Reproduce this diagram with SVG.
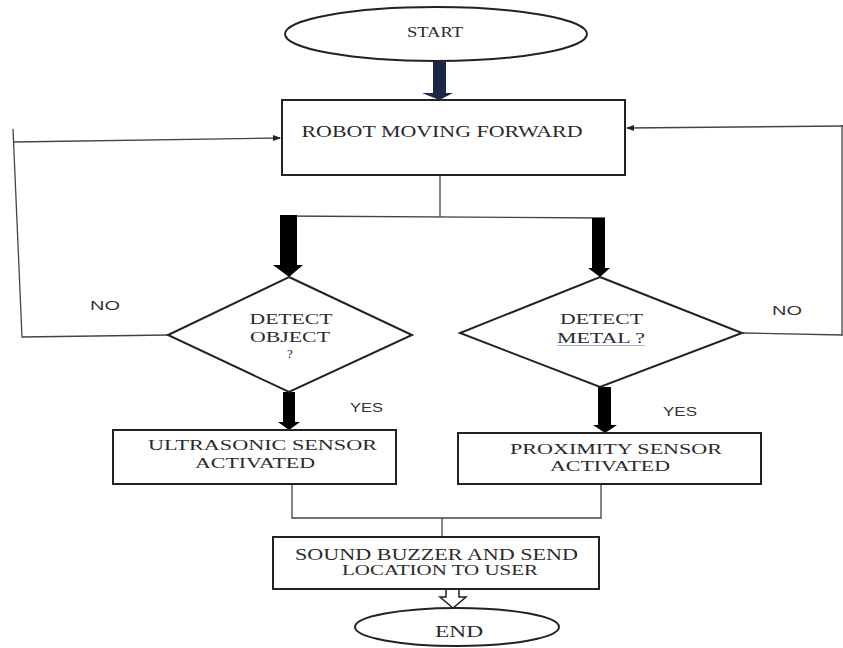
<svg xmlns="http://www.w3.org/2000/svg" width="843" height="648" viewBox="0 0 843 648">
<defs>
<style>
.shape{fill:#fff;stroke:#222;stroke-width:2}
.line{fill:none;stroke:#444;stroke-width:1.3}
.t{font-family:"Liberation Serif","Times New Roman",serif;fill:#2a2a2a;text-anchor:middle}
.s{font-family:"Liberation Sans",Arial,sans-serif;fill:#333;text-anchor:middle;font-size:13px}
.blk{fill:#000}
</style>
<marker id="ah" markerWidth="8" markerHeight="8" refX="7" refY="4" orient="auto" markerUnits="userSpaceOnUse">
<path d="M0,1 L8,4 L0,7 Z" fill="#222"/>
</marker>
</defs>
<rect width="843" height="648" fill="#fff"/>

<g id="connectors">
<polygon points="433,62 446,62 446,93 453,93 439.5,100 422,93 433,93" fill="#1c2747"/>
<path class="line" d="M440,175 L440,217"/>
<path class="line" d="M280,216 L605,218"/>
<polygon class="blk" points="280,215 297,215 297,265 303,265 289,277 273,265 280,265"/>
<polygon class="blk" points="592,218 605,218 605,268 610,268 600,277 588,268 592,268"/>
<path class="line" d="M168,335 L22,337 L13,129"/>
<path class="line" d="M14,142 L280,138" marker-end="url(#ah)"/>
<path class="line" d="M742,333 L843,335"/>
<path class="line" d="M842,335 L842,125"/>
<path class="line" d="M843,126 L627,128" marker-end="url(#ah)"/>
<polygon class="blk" points="283,392 295,392 295,422 300,422 289,430 278,422 283,422"/>
<polygon class="blk" points="598,387 611,387 611,425 617,425 605,433 593,425 598,425"/>
<path class="line" d="M292,484 L292,518 L601,518 L601,484"/>
<path class="line" d="M442,518 L442,537"/>
<polygon points="446,589 446,597 440,597 453,608 466,597 459,597 459,589" fill="#fff" stroke="#222" stroke-width="1.5"/>
</g>

<g id="start">
<ellipse class="shape" cx="436" cy="34" rx="151" ry="27"/>
<text class="t" x="435" y="37" font-size="15" textLength="56" lengthAdjust="spacingAndGlyphs">START</text>
</g>

<g id="robot">
<rect class="shape" x="282" y="100" width="343" height="75"/>
<text class="t" x="442" y="137" font-size="16" textLength="281" lengthAdjust="spacingAndGlyphs">ROBOT MOVING FORWARD</text>
</g>

<g id="detect-object">
<polygon class="shape" points="289,277 412,335 289,392 168,335"/>
<text class="t" x="291" y="324" font-size="14" textLength="83" lengthAdjust="spacingAndGlyphs">DETECT</text>
<text class="t" x="290" y="342" font-size="14" textLength="80" lengthAdjust="spacingAndGlyphs">OBJECT</text>
<text class="t" x="290" y="358" font-size="13">?</text>
</g>

<g id="detect-metal">
<polygon class="shape" points="600,277 742,333 600,387 460,333"/>
<text class="t" x="601.5" y="324" font-size="14" textLength="83" lengthAdjust="spacingAndGlyphs">DETECT</text>
<text class="t" x="601" y="343" font-size="14" textLength="88" lengthAdjust="spacingAndGlyphs">METAL ?</text>
<path d="M557,345.5 L645,345.5" stroke="#9fb8e0" stroke-width="1.2" fill="none"/>
</g>

<g id="labels">
<text class="s" x="105" y="310" textLength="30" lengthAdjust="spacingAndGlyphs">NO</text>
<text class="s" x="787" y="315" textLength="30" lengthAdjust="spacingAndGlyphs">NO</text>
<text class="s" x="366.5" y="412" textLength="33" lengthAdjust="spacingAndGlyphs">YES</text>
<text class="s" x="680" y="416" textLength="34" lengthAdjust="spacingAndGlyphs">YES</text>
</g>

<g id="ultrasonic">
<rect class="shape" x="113" y="430" width="283" height="54"/>
<text class="t" x="262.5" y="450" font-size="15" textLength="229" lengthAdjust="spacingAndGlyphs">ULTRASONIC SENSOR</text>
<text class="t" x="255" y="468" font-size="15" textLength="120" lengthAdjust="spacingAndGlyphs">ACTIVATED</text>
</g>

<g id="proximity">
<rect class="shape" x="458" y="433" width="303" height="51"/>
<text class="t" x="616" y="454" font-size="15" textLength="212" lengthAdjust="spacingAndGlyphs">PROXIMITY SENSOR</text>
<text class="t" x="610" y="471" font-size="15" textLength="120" lengthAdjust="spacingAndGlyphs">ACTIVATED</text>
</g>

<g id="buzzer">
<rect class="shape" x="273" y="537" width="326" height="52"/>
<text class="t" x="436.5" y="560" font-size="16" textLength="283" lengthAdjust="spacingAndGlyphs">SOUND BUZZER AND SEND</text>
<text class="t" x="440" y="575" font-size="15" textLength="196" lengthAdjust="spacingAndGlyphs">LOCATION TO USER</text>
</g>

<g id="end">
<ellipse class="shape" cx="457" cy="627" rx="102" ry="19"/>
<text class="t" x="459" y="637" font-size="16" textLength="48" lengthAdjust="spacingAndGlyphs">END</text>
</g>
</svg>
